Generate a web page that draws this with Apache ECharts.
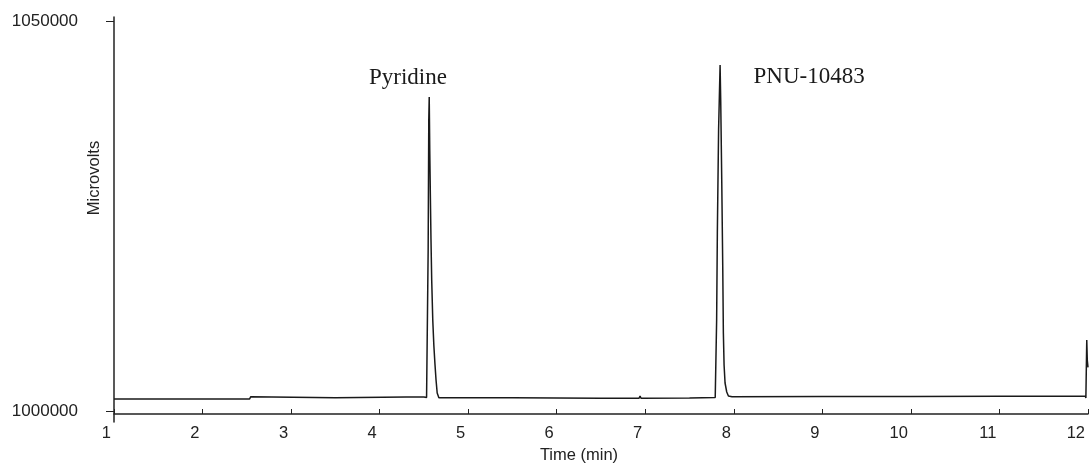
<!DOCTYPE html>
<html>
<head>
<meta charset="utf-8">
<script src="https://cdn.jsdelivr.net/npm/echarts@6/dist/echarts.min.js"></script>
<style>
  html, body { margin: 0; padding: 0; background: #fff; }
  #chart { width: 1090px; height: 465px; }
</style>
</head>
<body>
<div id="chart"></div>
<script>
// retention time (min) and detector signal (microvolts)
var timeMin = [
    1.0, 2.53, 2.545, 2.56, 3.5, 4.3, 4.5, 4.53, 4.54,
    4.548, 4.555, 4.560, 4.566, 4.572, 4.580, 4.588, 4.600, 4.612, 4.624, 4.637, 4.650, 4.669,
    5.5, 6.5, 6.93, 6.941, 6.952, 7.5, 7.79,
    7.800, 7.806, 7.814, 7.828, 7.845, 7.852, 7.864, 7.875, 7.882, 7.890, 7.901, 7.920, 7.939, 7.980,
    9.0, 10.0, 11.0, 11.97, 11.976, 11.986, 11.992, 12.0
];
var microvolts = [
    1001547, 1001547, 1001842, 1001675, 1001714, 1001804, 1001804, 1001740, 1001612,
    1020642, 1037301, 1040249, 1033457, 1028331, 1021923, 1016797, 1011671, 1008468, 1006161, 1003982, 1002316, 1001714,
    1001714, 1001637, 1001637, 1001932, 1001637, 1001675, 1001740,
    1001842, 1011671, 1022820, 1036020, 1044349, 1039864, 1029228, 1018463, 1010005, 1005905, 1003598, 1002445, 1001932, 1001842,
    1001868, 1001868, 1001894, 1001932, 1001675, 1009108, 1006500, 1005600
];
var yTicks = [1000000, 1050000];
var peakNames = ["Pyridine", "PNU-10483"];
var peakLabelAt = [[4.32, 1042700], [8.85, 1042800]];

var seriesData = [];
for (var i = 0; i < timeMin.length; i++) {
    seriesData.push([timeMin[i], microvolts[i]]);
}
var marks = [];
for (var j = 0; j < peakNames.length; j++) {
    marks.push({ name: peakNames[j], coord: peakLabelAt[j] });
}

var axisColor = '#222';
var myChart = echarts.init(document.getElementById('chart'));
var option = {
    animation: false,
    backgroundColor: '#fff',
    grid: {
        left: 114,
        right: 2,
        top: 17,
        bottom: 43,
        containLabel: false,
        outerBoundsMode: 'none'
    },
    // y axis title sits above the middle of the axis in the original
    graphic: [{
        type: 'text',
        x: 94,
        y: 178,
        rotation: Math.PI / 2,
        style: {
            text: 'Microvolts',
            align: 'center',
            verticalAlign: 'middle',
            fontFamily: 'Liberation Sans',
            fontSize: 16.5,
            fill: axisColor
        }
    }],
    xAxis: {
        type: 'value',
        min: 1,
        max: 12,
        interval: 1,
        offset: -8,
        name: 'Time (min)',
        nameLocation: 'middle',
        nameGap: 32,
        nameTextStyle: {
            fontFamily: 'Liberation Sans',
            fontSize: 16.5,
            color: axisColor,
            padding: [0, 44, 0, 0]
        },
        axisLine: { show: true, lineStyle: { color: axisColor, width: 1.5 } },
        axisTick: { show: true, inside: true, length: 5, lineStyle: { color: axisColor } },
        axisLabel: {
            fontFamily: 'Liberation Sans',
            fontSize: 16.5,
            color: axisColor,
            margin: 11,
            align: 'right',
            padding: [0, 3, 0, 0]
        },
        splitLine: { show: false }
    },
    yAxis: {
        type: 'value',
        min: 998600,
        max: 1050500,
        axisLine: { show: true, lineStyle: { color: axisColor, width: 1.5 } },
        axisTick: { show: true, length: 8, customValues: yTicks, lineStyle: { color: axisColor } },
        axisLabel: {
            customValues: yTicks,
            fontFamily: 'Liberation Sans',
            fontSize: 17,
            color: axisColor,
            margin: 36,
            formatter: function (v) { return String(v); }
        },
        splitLine: { show: false }
    },
    series: [{
        type: 'line',
        data: seriesData,
        showSymbol: false,
        symbol: 'none',
        lineStyle: { color: '#1a1a1a', width: 1.5 },
        markPoint: {
            symbol: 'circle',
            symbolSize: 1,
            itemStyle: { color: 'rgba(0,0,0,0)' },
            label: {
                show: true,
                position: 'inside',
                formatter: '{b}',
                fontFamily: 'Liberation Serif',
                fontSize: 23,
                color: '#1a1a1a'
            },
            data: marks
        }
    }]
};
myChart.setOption(option);
</script>
</body>
</html>
